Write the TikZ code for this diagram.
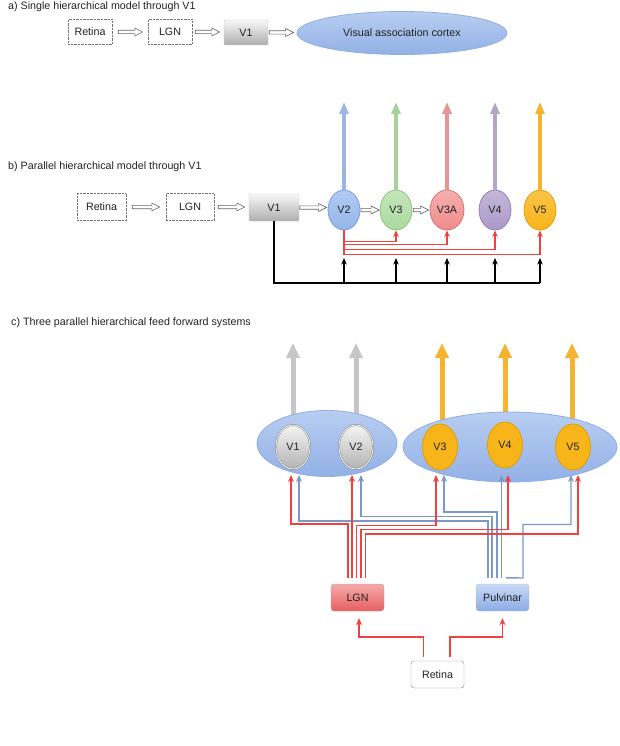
\documentclass[tikz,border=0pt]{standalone}
\usepackage{fontspec}
\setmainfont{Liberation Sans}
\usetikzlibrary{arrows.meta,calc,shapes.geometric}
\pgfdeclarelayer{bg}
\pgfsetlayers{bg,main}
\definecolor{redc}{HTML}{F2403F}
\definecolor{bluec}{HTML}{7B98C9}
\definecolor{txt}{HTML}{222222}
\definecolor{bigfillA}{HTML}{B8CEF2}
\definecolor{bigfillB}{HTML}{92B1E6}
\definecolor{bigline}{HTML}{8FAEE3}
\definecolor{cV2}{HTML}{92B5EA}
\definecolor{cV2d}{HTML}{6F97D6}
\definecolor{cV3}{HTML}{ABDA9E}
\definecolor{cV3d}{HTML}{86BE78}
\definecolor{cV3A}{HTML}{F08C8C}
\definecolor{cV3Ad}{HTML}{D66A6A}
\definecolor{cV4}{HTML}{AB99C9}
\definecolor{cV4d}{HTML}{8A78AA}
\definecolor{cV5}{HTML}{F8B51A}
\definecolor{cV5d}{HTML}{E09A00}
\definecolor{aV2}{HTML}{9AB6E2}
\definecolor{aV3}{HTML}{A6D29A}
\definecolor{aV3A}{HTML}{E99494}
\definecolor{aV4}{HTML}{B3A6C9}
\definecolor{aV5}{HTML}{F4B431}
\definecolor{agray}{HTML}{C6C6C6}
\definecolor{lgnA}{HTML}{F5AAAA}
\definecolor{lgnB}{HTML}{E65F5F}
\definecolor{pulA}{HTML}{C8D9F6}
\definecolor{pulB}{HTML}{8CACE4}
\begin{document}
\begin{tikzpicture}[x=1pt,y=-1pt,
  every node/.style={font=\fontsize{10.7}{12.8}\selectfont, text=txt},
  title/.style={anchor=base west, inner sep=0pt},
  dotbox/.style={draw=black!55, densely dotted, fill=white, inner sep=0pt},
  graybox/.style={draw=black!22, top color=black!3, bottom color=black!32, inner sep=0pt, rounded corners=1pt},
  ell/.style={ellipse, inner sep=0pt, minimum width=32pt, minimum height=40pt, line width=0.7pt},
  bigell/.style={ellipse, inner sep=0pt, draw=bigline, line width=0.8pt, top color=bigfillA, bottom color=bigfillB},
  hol/.style={draw=black!60, fill=white, line width=0.6pt,
    to path={let \p1=(\tikztostart), \p2=(\tikztotarget) in
      (\x1,{\y1+1.7pt}) -- ({\x2-8pt},{\y1+1.7pt}) -- ({\x2-8pt},{\y1+4pt}) -- (\x2,\y1)
      -- ({\x2-8pt},{\y1-4pt}) -- ({\x2-8pt},{\y1-1.7pt}) -- (\x1,{\y1-1.7pt}) -- cycle}},
  uparr/.style={line width=3.4pt, draw=#1, -{Triangle[length=12pt,width=9pt]}},
  bigarr/.style={line width=5pt, draw=#1, -{Triangle[length=15pt,width=13pt]}},
  redb/.style={draw=redc, line width=1.3pt, -{Stealth[length=6.5pt,width=5.5pt]}},
  blk/.style={draw=black, line width=1.4pt},
  blkarr/.style={draw=black, line width=1.4pt, -{Stealth[length=6.5pt,width=5.5pt]}},
  rline/.style={draw=redc, line width=1.4pt, -{Stealth[length=7pt,width=6pt]}},
  bline/.style={draw=bluec, line width=1.4pt, -{Stealth[length=7pt,width=6pt]}},
]
\useasboundingbox (0,0) rectangle (620,746);

% ---------- a) ----------
\node[title] (ta) at (8,10) {a) Single hierarchical model through V1};
\node[dotbox, minimum width=44pt, minimum height=25pt] (ra) at (90,32) {Retina};
\node[dotbox, minimum width=44pt, minimum height=25pt] (la) at (170,32) {LGN};
\node[graybox, minimum width=44pt, minimum height=25pt] (va) at (246,32.5) {V1};
\node[bigell, minimum width=210pt, minimum height=43pt] (vac) at (402,33) {Visual association cortex};
\draw[hol] ([xshift=6pt]ra.east) to ([xshift=-5pt]la.west);
\draw[hol] ([xshift=3pt]la.east) to ([xshift=-4pt]va.west);
\draw[hol] ([xshift=1pt]va.east) to ([xshift=-3pt]vac.west);

% ---------- b) ----------
\node[title] (tb) at (8,170) {b) Parallel hierarchical model through V1};
\node[dotbox, minimum width=49pt, minimum height=27pt] (rb) at (101.5,207) {Retina};
\node[dotbox, minimum width=48pt, minimum height=27pt] (lb) at (190,207) {LGN};
\node[graybox, minimum width=50pt, minimum height=27pt] (vb1) at (274,207.5) {V1};
\node[ell, draw=cV2d, top color=cV2!70, bottom color=cV2] (v2b) at (344,210) {V2};
\node[ell, draw=cV3d, top color=cV3!70, bottom color=cV3] (v3b) at (396,210) {V3};
\node[ell, draw=cV3Ad, top color=cV3A!70, bottom color=cV3A, minimum width=34pt] (v3ab) at (447,210) {V3A};
\node[ell, draw=cV4d, top color=cV4!70, bottom color=cV4] (v4b) at (495,210) {V4};
\node[ell, draw=cV5d, top color=cV5!80, bottom color=cV5] (v5b) at (540,210) {V5};
\draw[hol] ([xshift=6pt]rb.east) to ([xshift=-6pt]lb.west);
\draw[hol] ([xshift=4pt]lb.east) to ([xshift=-4pt]vb1.west);
\draw[hol] ([xshift=0.5pt]vb1.east) to ([xshift=-1pt]v2b.west);
\draw[hol] ([xshift=0.5pt]v2b.east) to ([xshift=-0.5pt]v3b.west);
\draw[hol] ([xshift=1pt]v3b.east) to ([xshift=-1pt]v3ab.west);
\coordinate (btop) at (0,102);
\draw[uparr=aV2] (v2b.north) -- (v2b.north |- btop);
\draw[uparr=aV3] (v3b.north) -- (v3b.north |- btop);
\draw[uparr=aV3A] (v3ab.north) -- (v3ab.north |- btop);
\draw[uparr=aV4] (v4b.north) -- (v4b.north |- btop);
\draw[uparr=aV5] (v5b.north) -- (v5b.north |- btop);
\draw[redb] (v2b.south) -- ++(0,11) -| (v3b.south);
\draw[redb] (v2b.south) -- ++(0,14) -| (v3ab.south);
\draw[redb] (v2b.south) -- ++(0,19) -| (v4b.south);
\draw[redb] (v2b.south) -- ++(0,24) -| (v5b.south);
\coordinate (bbase) at (0,283);
\coordinate (barr) at (0,258);
\draw[blk] (vb1.south) |- (v5b |- bbase);
\foreach \n in {v2b,v3b,v3ab,v4b,v5b}
  \draw[blkarr] (\n |- bbase) -- (\n |- barr);

% ---------- c) ----------
\node[title] (tc) at (11,325) {c) Three parallel hierarchical feed forward systems};
\node[bigell, minimum width=140pt, minimum height=66pt] (g1) at (327,443.5) {};
\node[bigell, minimum width=214pt, minimum height=70pt] (g2) at (510,447) {};
\node[ell, draw=black!50, top color=black!4, bottom color=black!30, minimum width=34pt, minimum height=44pt, double=white, double distance=0.8pt, line width=0.5pt] (v1c) at (293,447) {V1};
\node[ell, draw=black!50, top color=black!4, bottom color=black!30, minimum width=34pt, minimum height=44pt, double=white, double distance=0.8pt, line width=0.5pt] (v2c) at (356,447) {V2};
\node[ell, draw=cV5d, fill=cV5, minimum width=35pt, minimum height=46pt] (v3c) at (440,447) {V3\hspace{3pt}};
\node[ell, draw=cV5d, fill=cV5, minimum width=35pt, minimum height=46pt] (v4c) at (505,445) {V4};
\node[ell, draw=cV5d, fill=cV5, minimum width=35pt, minimum height=46pt] (v5c) at (573,447) {V5};
\coordinate (ctop) at (0,343);
\begin{pgfonlayer}{bg}
\draw[bigarr=agray] (v1c.center) -- (v1c.center |- ctop);
\draw[bigarr=agray] (v2c.center) -- (v2c.center |- ctop);
\draw[bigarr=aV5] ([xshift=2pt]v3c.center) -- ([xshift=2pt]v3c.center |- ctop);
\draw[bigarr=aV5] (v4c.center) -- (v4c.center |- ctop);
\draw[bigarr=aV5] ([xshift=-1pt]v5c.center) -- ([xshift=-1pt]v5c.center |- ctop);
\end{pgfonlayer}

\node[draw=black!35, rounded corners=3pt, minimum width=53pt, minimum height=27pt, inner sep=0pt,
      top color=lgnA, bottom color=lgnB] (lgn) at (357.5,597.5) {LGN};
\node[draw=black!25, rounded corners=3pt, minimum width=53pt, minimum height=27pt, inner sep=0pt,
      top color=pulA, bottom color=pulB] (pulv) at (502.5,597.5) {Pulvinar};
\node[draw=black!45, rounded corners=3pt, fill=white, minimum width=53pt, minimum height=27pt, inner sep=0pt] (retc) at (437.5,674.5) {Retina};

\draw[rline] ([xshift=-14pt,yshift=4pt]retc.north) -- ++(0,-20) -| ([xshift=1.5pt,yshift=-7pt]lgn.south);
\draw[rline] ([xshift=12.5pt,yshift=4pt]retc.north) -- ++(0,-20) -| ([yshift=-7pt]pulv.south);

\coordinate (r1) at (291,475);
\coordinate (b1) at (299,475);
\coordinate (r2) at (352,475);
\coordinate (b2) at (361,475);
\coordinate (r3) at (436,475);
\coordinate (b3) at (444,475);
\coordinate (b4) at (501.5,475);
\coordinate (r4) at (508,475);
\coordinate (b5) at (571,475);
\coordinate (r5) at (578,475);

\draw[bline] ([xshift=-14.5pt,yshift=6pt]pulv.north) |- (299,521) -- (b1);
\draw[bline] ([xshift=-10.5pt,yshift=6pt]pulv.north) |- (361,516.5) -- (b2);
\draw[bline] ([xshift=-5.5pt,yshift=6pt]pulv.north) |- (444,512) -- (b3);
\draw[bline] ([xshift=-1pt,yshift=6pt]pulv.north) -- (b4);
\draw[bline] ([xshift=3.5pt,yshift=6pt]pulv.north) -- (523,578) |- (571,524.5) -- (b5);

\draw[rline] ([xshift=-9.5pt,yshift=6pt]lgn.north) |- (291,524) -- (r1);
\draw[rline] ([xshift=-5.5pt,yshift=6pt]lgn.north) -- (r2);
\draw[rline] ([xshift=-1pt,yshift=6pt]lgn.north) |- (436,525.5) -- (r3);
\draw[rline] ([xshift=3.5pt,yshift=6pt]lgn.north) |- (508,529.5) -- (r4);
\draw[rline] ([xshift=8pt,yshift=6pt]lgn.north) |- (578,534) -- (r5);
\end{tikzpicture}
\end{document}
